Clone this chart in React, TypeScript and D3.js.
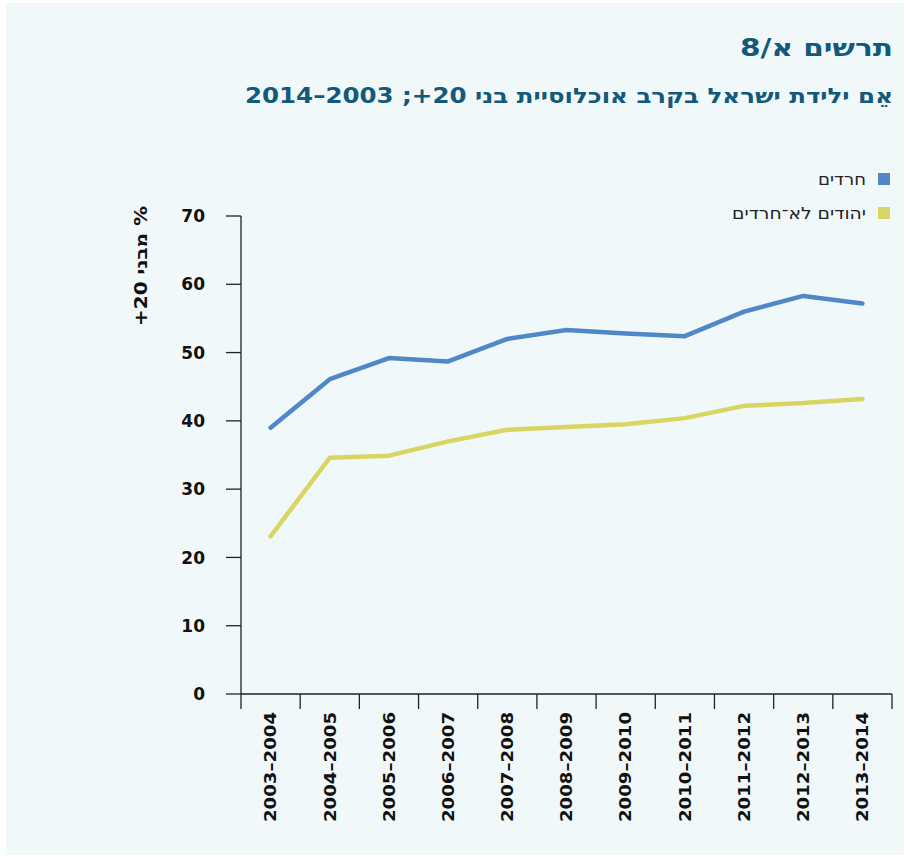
import React from "react";
import * as d3 from "d3";

const years = [
  "2003–2004", "2004–2005", "2005–2006", "2006–2007", "2007–2008", "2008–2009",
  "2009–2010", "2010–2011", "2011–2012", "2012–2013", "2013–2014",
];
const haredim = [39.0, 46.1, 49.2, 48.7, 52.0, 53.3, 52.8, 52.4, 56.0, 58.3, 57.2];
const nonHaredi = [23.1, 34.6, 34.9, 37.0, 38.7, 39.1, 39.5, 40.4, 42.2, 42.6, 43.2];
const yTicks = [0, 10, 20, 30, 40, 50, 60, 70];

const seriesNames = ["חרדים", "יהודים לא־חרדים"];
const seriesColors = ["#4f87c7", "#d8d562"];
const legendWidths = [48, 134];

const W = 907, H = 857;
const left = 241, right = 892, top = 216, bottom = 694;
const font = "'DejaVu Sans', Verdana, sans-serif";
const rtl: React.CSSProperties = { direction: "rtl", unicodeBidi: "embed" };

export default function App() {
  const x = d3.scaleBand().domain(years).range([left, right]);
  const y = d3.scaleLinear().domain([0, 70]).range([bottom, top]);
  const line = d3.line<number>()
    .x((_, i) => (x(years[i]) as number) + x.bandwidth() / 2)
    .y(d => y(d));

  const series = [haredim, nonHaredi];

  return (
    <svg width={W} height={H} style={{ position: "absolute", left: 0, top: 0 }} fontFamily={font}>
      <rect x={0} y={0} width={W} height={H} fill="#fff" />
      <rect x={6} y={3} width={898} height={852} fill="#f1f8fa" />

      {/* titles */}
      <text x={740} y={56} fontSize={24} fontWeight="bold" fill="#12597a"
        textLength={153} lengthAdjust="spacingAndGlyphs">
        תרשים א/8
      </text>
      <text x={893} y={103} textAnchor="start" style={rtl} fontSize={21} fontWeight="bold" fill="#12597a"
        textLength={648} lengthAdjust="spacingAndGlyphs">
        אֵם ילידת ישראל בקרב אוכלוסיית בני 20+; 2003–2014
      </text>

      {/* legend */}
      {seriesNames.map((n, i) => (
        <g key={n}>
          <rect x={878} y={173 + i * 34} width={12} height={12} fill={seriesColors[i]} />
          <text x={866 - legendWidths[i]} y={185 + i * 34} fontSize={16.5} fill="#222"
            textLength={legendWidths[i]} lengthAdjust="spacingAndGlyphs">
            {n}
          </text>
        </g>
      ))}

      {/* y axis */}
      <line x1={left} x2={left} y1={top} y2={bottom} stroke="#222" strokeWidth={1.3} />
      {yTicks.map(t => (
        <g key={t}>
          <line x1={226} x2={left} y1={y(t)} y2={y(t)} stroke="#222" strokeWidth={1.3} />
          <text x={205} y={y(t)} dy="0.36em" textAnchor="end" fontSize={17} fontWeight="bold" fill="#111">
            {t}
          </text>
        </g>
      ))}
      <text
        transform={`translate(141,${266}) rotate(-90)`}
        textAnchor="middle" style={rtl} dy="0.36em" fontSize={17} fontWeight="bold" fill="#111"
        textLength={120} lengthAdjust="spacingAndGlyphs"
      >
        % מבני 20+
      </text>

      {/* x axis */}
      <line x1={left} x2={right} y1={bottom} y2={bottom} stroke="#222" strokeWidth={1.3} />
      {years.map(yr => (
        <line key={"t" + yr} x1={x(yr)} x2={x(yr)} y1={bottom} y2={bottom + 15} stroke="#222" strokeWidth={1.3} />
      ))}
      <line x1={right} x2={right} y1={bottom} y2={bottom + 15} stroke="#222" strokeWidth={1.3} />
      {years.map(yr => (
        <text
          key={yr}
          transform={`translate(${(x(yr) as number) + x.bandwidth() / 2},712) rotate(-90)`}
          textAnchor="end" dy="0.36em" fontSize={16} fontWeight="bold" fill="#111"
          textLength={110} lengthAdjust="spacingAndGlyphs"
        >
          {yr}
        </text>
      ))}

      {/* lines */}
      {series.map((s, i) => (
        <path key={i} d={line(s) as string} fill="none" stroke={seriesColors[i]} strokeWidth={4.5}
          strokeLinecap="round" strokeLinejoin="round" />
      ))}
    </svg>
  );
}
